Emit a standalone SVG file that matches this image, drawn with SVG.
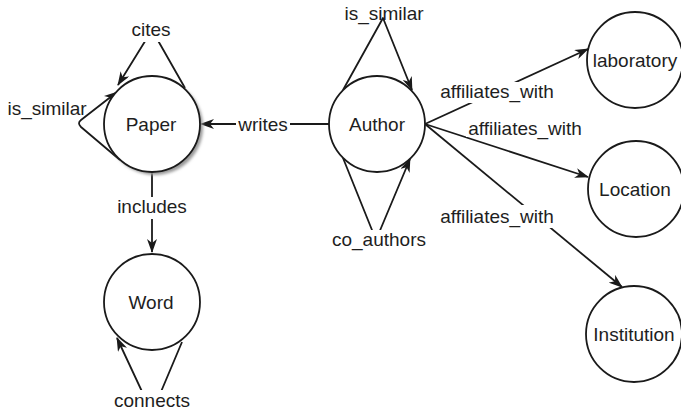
<svg xmlns="http://www.w3.org/2000/svg" width="681" height="413" viewBox="0 0 681 413">
<style>
.node{fill:#fff;stroke:#1a1a1a;stroke-width:1.8}
.edge{fill:none;stroke:#1a1a1a;stroke-width:1.8;stroke-linejoin:round}
.arr{marker-end:url(#ah)}
text{font-family:"Liberation Sans",Arial,Helvetica,sans-serif;font-size:19px;fill:#1e1e1e;text-anchor:middle}
.bg{fill:#fff}
</style>
<defs>
<marker id="ah" markerWidth="14" markerHeight="10" refX="13" refY="5" orient="auto" markerUnits="userSpaceOnUse">
<path d="M0,0 L14,5 L0,10 L4,5 z" fill="#1a1a1a"/>
</marker>
<filter id="sh" x="-20%" y="-20%" width="140%" height="140%">
<feGaussianBlur stdDeviation="1.5"/>
</filter>
</defs>
<g id="connectors">
<g id="e-writes"><path class="edge arr" d="M329,124 L201,124"/><rect class="bg" x="236" y="114" width="54" height="22"/><text x="263" y="131">writes</text></g>
<g id="e-includes"><path class="edge arr" d="M152,172 L152,252"/><rect class="bg" x="116" y="197" width="72" height="22"/><text x="152" y="213">includes</text></g>
<g id="e-cites"><path class="edge arr" d="M185,88 L152,30 L118,85"/><rect class="bg" x="128" y="20" width="46" height="22"/><text x="151" y="36">cites</text></g>
<g id="e-paper-similar"><path class="edge arr" d="M120,160 L81,127 Q77,123 81,120 L117,92"/><text x="47" y="115">is_similar</text></g>
<g id="e-author-similar"><path class="edge arr" d="M343,90 L383,18 L412,90"/><text x="384" y="20">is_similar</text></g>
<g id="e-coauthors"><path class="edge arr" d="M343,158 L376,240 L410,159"/><rect class="bg" x="330" y="230" width="98" height="22"/><text x="379" y="246">co_authors</text></g>
<g id="e-connects"><path class="edge arr" d="M182,342 L152,413 L117,338"/><rect class="bg" x="110" y="390" width="84" height="23"/><text x="152" y="407">connects</text></g>
<g id="e-aff-lab"><path class="edge arr" d="M425,124 L588,49"/><rect class="bg" x="438" y="82" width="120" height="21"/><text x="497" y="98">affiliates_with</text></g>
<g id="e-aff-loc"><path class="edge arr" d="M425,124 L588,177"/><rect class="bg" x="466" y="119" width="118" height="18"/><text x="525" y="135">affiliates_with</text></g>
<g id="e-aff-inst"><path class="edge arr" d="M425,124 L622,287"/><rect class="bg" x="438" y="205" width="120" height="23"/><text x="497" y="223">affiliates_with</text></g>
</g>
<g id="n-paper"><circle cx="155" cy="127" r="48" fill="#999" filter="url(#sh)"/><circle class="node" cx="152" cy="124" r="48"/><text x="151" y="131">Paper</text></g>
<g id="n-author"><circle class="node" cx="377" cy="124" r="48"/><text x="377" y="131">Author</text></g>
<g id="n-word"><circle class="node" cx="152" cy="302" r="48"/><text x="151" y="309">Word</text></g>
<g id="n-laboratory"><circle class="node" cx="635" cy="60" r="48"/><text x="635" y="67">laboratory</text></g>
<g id="n-location"><circle class="node" cx="636" cy="189" r="48"/><text x="635" y="196">Location</text></g>
<g id="n-institution"><circle class="node" cx="634" cy="334" r="48"/><text x="634" y="341">Institution</text></g>
</svg>
